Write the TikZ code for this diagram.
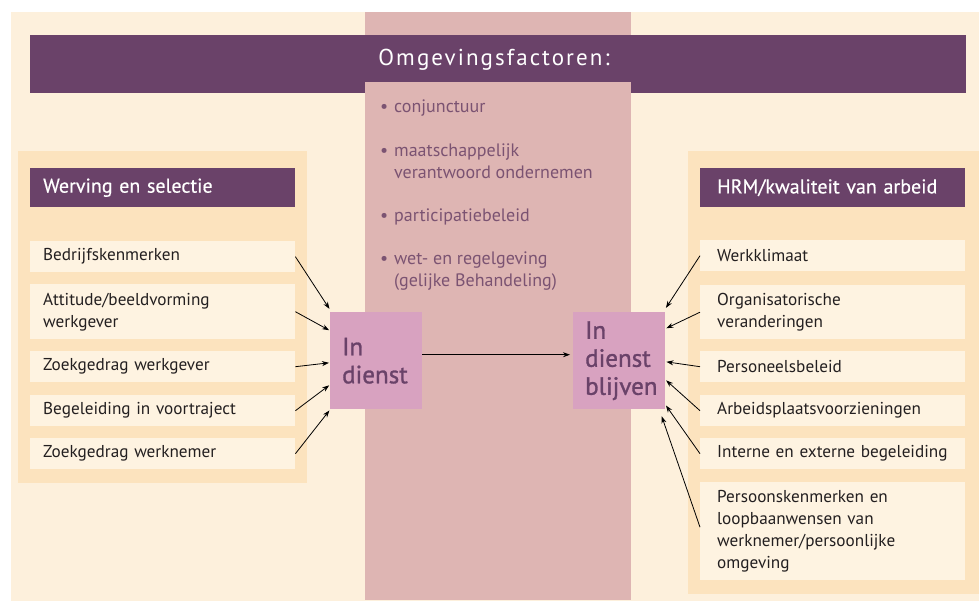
\documentclass[tikz,border=0pt]{standalone}
\usepackage{fontspec}
\setmainfont{PT Sans}
\usetikzlibrary{arrows.meta,calc}
\definecolor{cream}{HTML}{FDF0DC}
\definecolor{panel}{HTML}{FCE3BE}
\definecolor{itembg}{HTML}{FEF3E1}
\definecolor{plum}{HTML}{6A4269}
\definecolor{rose}{HTML}{DEB5B3}
\definecolor{mauve}{HTML}{D8A2C0}
\definecolor{bultext}{HTML}{7B5372}
\definecolor{ink}{HTML}{231F20}
\begin{document}
\begin{tikzpicture}[x=1pt,y=-1pt,
  hdr/.style={fill=plum, text=white, anchor=north west, minimum height=39pt,
    inner xsep=13pt, inner ysep=0pt, text width=239pt, align=left,
    font=\fontsize{20}{22}\selectfont\addfontfeatures{FakeBold=0.4}},
  item/.style={fill=itembg, text=ink, anchor=north west, minimum height=31pt,
    inner xsep=13pt, inner ysep=0pt, text width=239pt, align=left,
    font=\fontsize{17.2}{22}\selectfont},
  rside/.style={inner xsep=17pt, text width=231pt},
  statebox/.style={fill=mauve, text=plum, anchor=north west, minimum height=97pt,
    inner xsep=12pt, inner ysep=0pt, text width=68pt, align=left,
    font=\fontsize{25}{28}\selectfont\addfontfeatures{FakeBold=1.2}},
  bul/.style={text=bultext, anchor=north west, inner sep=0pt, align=left,
    font=\fontsize{18}{22}\selectfont},
  title/.style={text=white, inner sep=0pt,
    font=\fontsize{23}{26}\selectfont\addfontfeatures{LetterSpace=9}},
  arr/.style={draw=black, line width=0.8pt, -{Stealth[length=7pt,width=5pt]}, shorten >=1pt}
]
\useasboundingbox[fill=white] (0,0) rectangle (979,604);
\fill[cream] (11,12) rectangle (979,601);
\fill[rose] (365,12) rectangle (631,600);
\fill[plum] (30,35) rectangle (365,93);
\fill[plum] (365,35) rectangle (631,82);
\fill[plum] (631,35) rectangle (966,93);
\node[title] (t) at (494,60) {Omgevingsfactoren:};

% panels
\fill[panel] (18,151) rectangle (307,483);
\fill[panel] (688,151) rectangle (979,594);

% left
\node[hdr] (lh) at (30,168) {Werving en selectie};
\node[item] (l1) at (30,241) {Bedrijfskenmerken};
\node[item, minimum height=55pt] (l2) at (30,284) {Attitude/beeldvorming\\werkgever};
\node[item] (l3) at (30,351) {Zoekgedrag werkgever};
\node[item] (l4) at (30,395) {Begeleiding in voortraject};
\node[item] (l5) at (30,438) {Zoekgedrag werknemer};

% right
\node[hdr, rside] (rh) at (700,168) {HRM/kwaliteit van arbeid};
\node[item, rside] (r1) at (700,240) {Werkklimaat};
\node[item, rside, minimum height=54pt] (r2) at (700,285) {Organisatorische\\veranderingen};
\node[item, rside] (r3) at (700,351) {Personeelsbeleid};
\node[item, rside] (r4) at (700,395) {Arbeidsplaatsvoorzieningen};
\node[item, rside] (r5) at (700,438) {Interne en externe begeleiding};
\node[item, rside, minimum height=98pt] (r6) at (700,482) {Persoonskenmerken en\\loopbaanwensen van\\werknemer/persoonlijke\\omgeving};

% factors
\node[bul] (f1) at (380,100) {\makebox[14pt][l]{•}conjunctuur};
\node[bul] (f2) at (380,144) {\makebox[14pt][l]{•}maatschappelijk\\\hspace*{14pt}verantwoord ondernemen};
\node[bul] (f3) at (380,209) {\makebox[14pt][l]{•}participatiebeleid};
\node[bul] (f4) at (380,252) {\makebox[14pt][l]{•}wet- en regelgeving\\\hspace*{14pt}(gelijke Behandeling)};

% state boxes
\node[statebox] (ind) at (330,312) {In\\dienst};
\node[statebox] (ibl) at (573,312) {In\\dienst\\blijven};

% arrows
\draw[arr] (l1.east) -- ([yshift=51pt]ind.west);
\draw[arr] (l2.east) -- ([yshift=30pt]ind.west);
\draw[arr] (l3.east) -- ([yshift=-2pt]ind.west);
\draw[arr] (l4.east) -- ([yshift=-24pt]ind.west);
\draw[arr] (l5.east) -- ([yshift=-49pt]ind.west);
\draw[arr, shorten >=3pt] ([yshift=6pt]ind.east) -- ([yshift=6pt]ibl.west);
\draw[arr] (r1.west) -- ([yshift=52pt]ibl.east);
\draw[arr] (r2.west) -- ([yshift=32pt]ibl.east);
\draw[arr] (r3.west) -- ([yshift=-1pt]ibl.east);
\draw[arr] (r4.west) -- ([yshift=-19pt]ibl.east);
\draw[arr] (r5.west) -- ([yshift=-44pt]ibl.east);
\coordinate (pend) at ([xshift=-4pt,yshift=-6pt]ibl.south east);
\draw[arr] ([yshift=4pt]r6.west) -- (pend);
\end{tikzpicture}
\end{document}
